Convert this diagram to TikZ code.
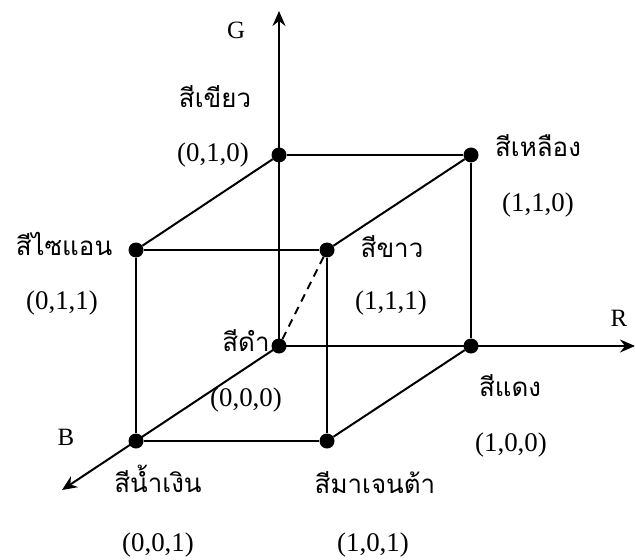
\documentclass[tikz,border=0pt]{standalone}
\usepackage{fontspec}
\setmainfont{Liberation Serif}
\newfontfamily\thaifont[Script=Thai]{Loma}
\usetikzlibrary{arrows.meta}
\begin{document}
\begin{tikzpicture}[x=1bp,y=-1bp,
  vtx/.style={circle,fill=black,inner sep=0pt,minimum size=15bp},
  edge/.style={line width=2bp},
  axis/.style={line width=2bp,-{Stealth[length=15bp,width=13bp,inset=5bp]}},
  lat/.style={font=\fontsize{27}{29}\selectfont,inner sep=0pt},
  axl/.style={font=\fontsize{25}{27}\selectfont,inner sep=0pt},
  th/.style={font=\thaifont\fontsize{26}{28}\selectfont,inner sep=0pt,anchor=base}]
\useasboundingbox (0,0) rectangle (635,560);
% vertices
\node[vtx] (k) at (279,346) {};
\node[vtx] (g) at (279,155) {};
\node[vtx] (y) at (471,155) {};
\node[vtx] (r) at (471,346) {};
\node[vtx] (c) at (136,250) {};
\node[vtx] (w) at (327,250) {};
\node[vtx] (b) at (136,441) {};
\node[vtx] (m) at (327,441) {};
\coordinate (gt) at (279,11);
\coordinate (rt) at (635,346);
\coordinate (bt) at (62,490);
% axes
\draw[axis] (k.center) -- (gt);
\draw[axis] (k.center) -- (rt);
\draw[axis] (k.center) -- (bt);
% edges
\draw[edge] (g) -- (y);
\draw[edge] (g) -- (c);
\draw[edge] (y) -- (w);
\draw[edge] (c) -- (w);
\draw[edge] (c) -- (b);
\draw[edge] (w) -- (m);
\draw[edge] (y) -- (r);
\draw[edge] (b) -- (m);
\draw[edge] (m) -- (r);
\draw[edge,dashed,dash pattern=on 8bp off 6bp] (k) -- (w);
% labels
\node[axl] (lG) at (236,30) {G};
\node[axl] (lR) at (619,318) {R};
\node[axl] (lB) at (66,437) {B};
\node[th] (tg) at (215,108) {สีเขียว};
\node[lat] (cg) at (213,155) {(0,1,0)};
\node[th] (ty) at (538,157) {สีเหลือง};
\node[lat] (cy) at (538,205) {(1,1,0)};
\node[th] (tc) at (64,255) {สีไซแอน};
\node[lat] (cc) at (62,303) {(0,1,1)};
\node[th] (tw) at (392,257) {สีขาว};
\node[lat] (cw) at (391,303) {(1,1,1)};
\node[th] (tk) at (246,351) {สีดำ};
\node[lat] (ck) at (246,400) {(0,0,0)};
\node[th] (tr) at (510,396) {สีแดง};
\node[lat] (cr) at (511,445) {(1,0,0)};
\node[th] (tb) at (158,492) {สีน้ำเงิน};
\node[lat] (cb) at (158,545) {(0,0,1)};
\node[th] (tm) at (375,493) {สีมาเจนต้า};
\node[lat] (cm) at (373,545) {(1,0,1)};
\end{tikzpicture}
\end{document}
